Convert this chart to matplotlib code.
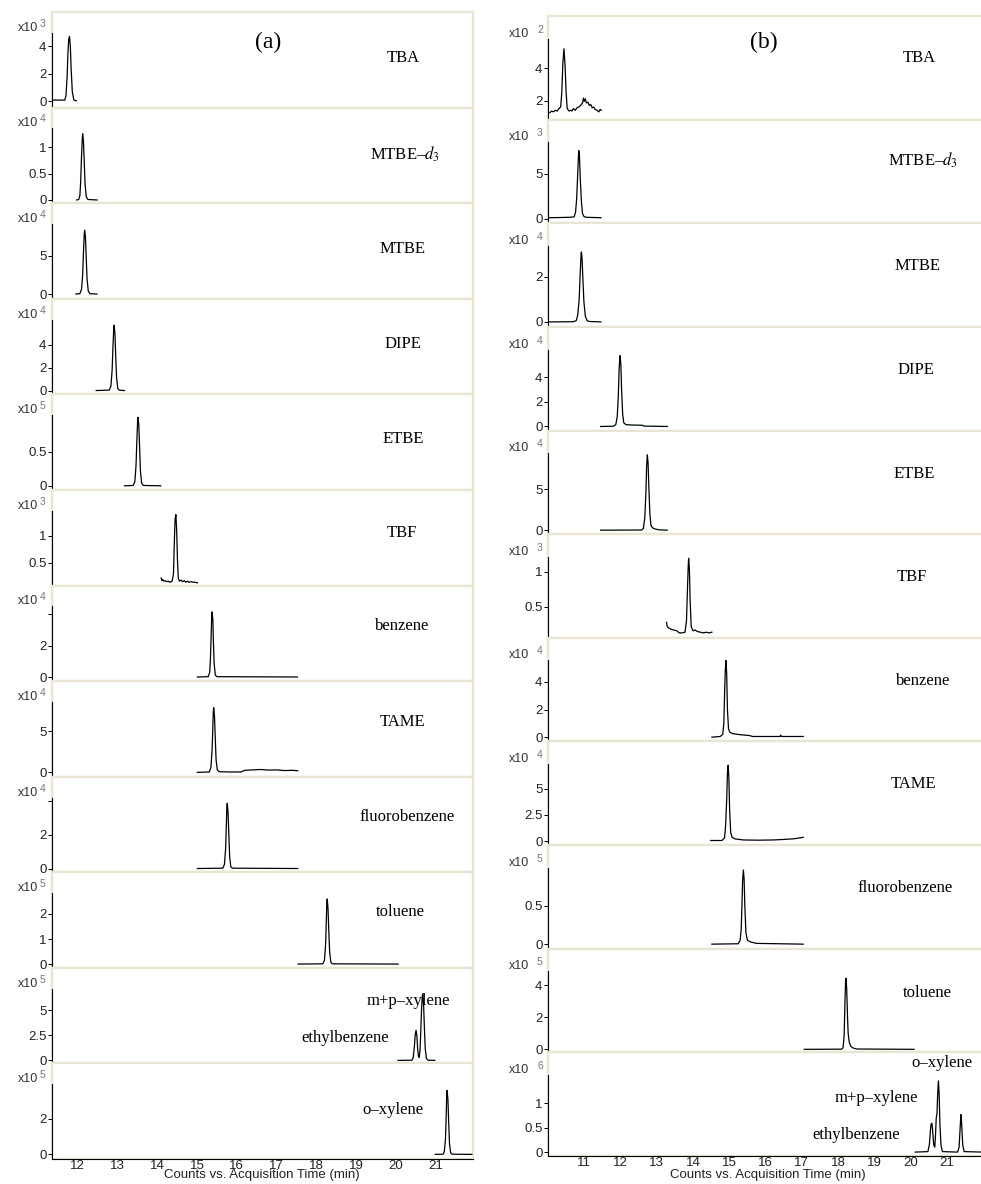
import matplotlib.pyplot as plt
from matplotlib.patches import Rectangle

plt.rcParams['font.family'] = ['Liberation Sans', 'DejaVu Sans']
plt.rcParams['mathtext.fontset'] = 'stix'

W, H = 981, 1184
FRAME = '#e9e5d3'

# ---------------- column (a) traces: time (min), counts in panel units ----------------
a_tba_t = [11.36, 11.68, 11.71, 11.74, 11.76, 11.78, 11.80, 11.82, 11.84, 11.87, 11.91, 11.97]
a_tba_y = [0.1, 0.1, 0.4, 1.8, 3.5, 4.5, 4.7, 4.0, 2.4, 0.7, 0.1, 0.05]

a_mtbed3_t = [11.98, 12.03, 12.06, 12.08, 12.10, 12.12, 12.13, 12.15, 12.17, 12.19, 12.22, 12.26, 12.49]
a_mtbed3_y = [0.0, 0.01, 0.08, 0.35, 0.8, 1.15, 1.25, 1.1, 0.7, 0.3, 0.06, 0.01, 0.0]

a_mtbe_t = [11.96, 12.06, 12.10, 12.13, 12.15, 12.17, 12.18, 12.20, 12.22, 12.24, 12.27, 12.31, 12.49]
a_mtbe_y = [0.0, 0.05, 0.6, 2.5, 5.5, 7.8, 8.3, 7.4, 4.6, 2.0, 0.4, 0.05, 0.0]

a_dipe_t = [12.47, 12.80, 12.84, 12.87, 12.89, 12.91, 12.92, 12.94, 12.96, 12.98, 13.01, 13.05, 13.18]
a_dipe_y = [0.0, 0.04, 0.4, 1.8, 3.8, 5.4, 5.7, 5.0, 3.0, 1.2, 0.2, 0.03, 0.0]

a_etbe_t = [13.18, 13.40, 13.44, 13.47, 13.49, 13.51, 13.52, 13.54, 13.56, 13.58, 13.61, 13.65, 14.09]
a_etbe_y = [0.0, 0.005, 0.06, 0.3, 0.65, 0.95, 1.0, 0.88, 0.55, 0.22, 0.04, 0.005, 0.0]

a_tbf_t = [14.10, 14.12, 14.14, 14.17, 14.20, 14.24, 14.28, 14.32, 14.36, 14.38, 14.41, 14.43, 14.45, 14.47,
           14.49, 14.51, 14.53, 14.56, 14.60, 14.64, 14.68, 14.72, 14.76, 14.80, 14.85, 14.90, 14.95, 15.01]
a_tbf_y = [0.22, 0.17, 0.19, 0.16, 0.17, 0.15, 0.16, 0.14, 0.15, 0.17, 0.30, 0.85, 1.3, 1.39,
           1.1, 0.55, 0.22, 0.16, 0.18, 0.15, 0.17, 0.14, 0.16, 0.14, 0.15, 0.14, 0.14, 0.13]

a_benz_t = [15.01, 15.28, 15.32, 15.34, 15.36, 15.37, 15.38, 15.40, 15.41, 15.43, 15.46, 15.50, 17.52]
a_benz_y = [0.0, 0.02, 0.3, 1.3, 3.0, 3.9, 4.15, 3.6, 2.4, 0.9, 0.12, 0.02, 0.0]

a_tame_t = [15.01, 15.31, 15.35, 15.38, 15.40, 15.41, 15.42, 15.44, 15.46, 15.48, 15.51, 15.56, 15.8,
            16.1, 16.2, 16.4, 16.6, 16.8, 17.0, 17.2, 17.4, 17.53]
a_tame_y = [0.0, 0.05, 0.6, 2.8, 5.8, 7.4, 7.85, 6.8, 4.0, 1.5, 0.3, 0.08, 0.05,
            0.05, 0.25, 0.3, 0.35, 0.28, 0.3, 0.22, 0.25, 0.2]

a_fluo_t = [15.01, 15.65, 15.69, 15.72, 15.74, 15.75, 15.76, 15.78, 15.80, 15.82, 15.85, 15.89, 17.53]
a_fluo_y = [0.0, 0.02, 0.25, 1.2, 2.8, 3.6, 3.84, 3.3, 2.0, 0.7, 0.1, 0.02, 0.0]

a_tol_t = [17.54, 18.16, 18.20, 18.23, 18.25, 18.26, 18.27, 18.29, 18.31, 18.33, 18.36, 18.40, 20.05]
a_tol_y = [0.0, 0.01, 0.15, 0.8, 1.9, 2.45, 2.6, 2.2, 1.3, 0.5, 0.08, 0.01, 0.0]

a_xyl_t = [20.05, 20.40, 20.43, 20.46, 20.48, 20.50, 20.52, 20.54, 20.56, 20.58, 20.60, 20.62, 20.64,
           20.66, 20.67, 20.69, 20.71, 20.73, 20.76, 20.80, 20.97]
a_xyl_y = [0.0, 0.02, 0.3, 1.5, 2.6, 3.0, 2.5, 1.2, 0.4, 0.3, 1.0, 3.0, 5.3,
           6.5, 6.6, 5.5, 3.2, 1.2, 0.2, 0.02, 0.0]

a_oxyl_t = [20.98, 21.18, 21.21, 21.24, 21.26, 21.27, 21.28, 21.30, 21.32, 21.34, 21.37, 21.41, 21.90]
a_oxyl_y = [0.0, 0.01, 0.15, 0.9, 2.4, 3.4, 3.6, 3.1, 1.8, 0.6, 0.08, 0.01, 0.0]

# panel scaling (x10^n), y-range and ticks for column (a)
a_exp = [3, 4, 4, 4, 5, 3, 4, 4, 4, 5, 5, 5]
a_ylo = [-0.44, -0.06, -0.61, -0.33, -0.06, 0.08, -0.26, -0.52, -0.22, -0.15, -0.30, -0.26]
a_ytop = [4.95, 1.35, 9.1, 6.18, 1.03, 1.46, 4.5, 8.54, 4.18, 2.83, 7.14, 3.94]
a_ticks = [[0, 2, 4], [0, 0.5, 1], [0, 5], [0, 2, 4], [0, 0.5], [0.5, 1], [0, 2, 4], [0, 5],
           [0, 2, 4], [0, 1, 2], [0, 2.5, 5], [0, 2]]
a_ticklabels = [['0', '2', '4'], ['0', '0.5', '1'], ['0', '5'], ['0', '2', '4'], ['0', '0.5'],
                ['0.5', '1'], ['0', '2', ''], ['0', '5'], ['0', '2', ''], ['0', '1', '2'],
                ['0', '2.5', '5'], ['0', '2']]
a_names = [['TBA'], ['MTBE–$d_3$'], ['MTBE'], ['DIPE'], ['ETBE'], ['TBF'], ['benzene'], ['TAME'],
           ['fluorobenzene'], ['toluene'], ['m+p–xylene', 'ethylbenzene'], ['o–xylene']]
a_xticks = list(range(12, 22))

# ---------------- column (b) traces ----------------
b_tba_t = [10.05, 10.10, 10.15, 10.20, 10.25, 10.30, 10.35, 10.38, 10.41, 10.44, 10.47, 10.50, 10.53,
           10.58, 10.62, 10.66, 10.70, 10.75, 10.80, 10.85, 10.90, 10.95, 10.98, 11.00, 11.03, 11.06,
           11.10, 11.14, 11.18, 11.22, 11.26, 11.30, 11.35, 11.40, 11.44, 11.47]
b_tba_y = [1.25, 1.35, 1.3, 1.4, 1.35, 1.5, 1.6, 2.5, 4.3, 5.2, 4.2, 2.5, 1.5,
           1.35, 1.4, 1.35, 1.5, 1.4, 1.55, 1.6, 1.7, 1.85, 2.15, 1.95, 2.1, 1.85,
           1.9, 1.7, 1.75, 1.55, 1.6, 1.45, 1.4, 1.3, 1.45, 1.4]

b_mtbed3_t = [10.03, 10.3, 10.6, 10.72, 10.76, 10.79, 10.82, 10.84, 10.85, 10.87, 10.89, 10.92, 10.95,
              10.99, 11.05, 11.46]
b_mtbed3_y = [0.1, 0.12, 0.15, 0.2, 0.7, 2.2, 5.0, 7.0, 7.6, 6.8, 4.5, 2.0, 0.6, 0.25, 0.15, 0.1]

b_mtbe_t = [10.03, 10.70, 10.78, 10.82, 10.86, 10.89, 10.91, 10.92, 10.94, 10.96, 10.99, 11.03, 11.08,
            11.15, 11.46]
b_mtbe_y = [0.0, 0.01, 0.06, 0.3, 1.0, 2.2, 2.9, 3.09, 2.8, 2.0, 0.9, 0.25, 0.05, 0.02, 0.0]

b_dipe_t = [11.45, 11.80, 11.87, 11.91, 11.94, 11.96, 11.98, 11.99, 12.01, 12.03, 12.06, 12.09, 12.15,
            12.3, 12.6, 12.65, 13.29]
b_dipe_y = [0.0, 0.02, 0.15, 0.8, 2.5, 4.5, 5.5, 5.75, 5.0, 3.0, 1.0, 0.3, 0.15, 0.12, 0.1, 0.03, 0.0]

b_etbe_t = [11.45, 12.58, 12.63, 12.67, 12.70, 12.72, 12.74, 12.76, 12.78, 12.81, 12.84, 12.88, 12.95,
            13.05, 13.29]
b_etbe_y = [0.0, 0.02, 0.2, 1.5, 4.5, 7.8, 9.23, 8.3, 5.5, 2.0, 0.6, 0.3, 0.15, 0.05, 0.0]

b_tbf_t = [13.27, 13.29, 13.33, 13.40, 13.48, 13.55, 13.62, 13.70, 13.78, 13.82, 13.85, 13.87, 13.88,
           13.90, 13.92, 13.95, 14.00, 14.06, 14.12, 14.20, 14.28, 14.36, 14.44, 14.52]
b_tbf_y = [0.28, 0.22, 0.20, 0.18, 0.17, 0.16, 0.13, 0.13, 0.14, 0.3, 0.8, 1.1, 1.19,
           1.05, 0.6, 0.22, 0.16, 0.17, 0.15, 0.14, 0.13, 0.14, 0.13, 0.14]

b_benz_t = [14.52, 14.75, 14.82, 14.85, 14.87, 14.89, 14.91, 14.93, 14.95, 14.98, 15.02, 15.1, 15.3,
            15.55, 15.65, 16.4, 16.42, 16.44, 17.04]
b_benz_y = [0.0, 0.05, 0.2, 1.0, 3.0, 4.8, 5.55, 4.5, 2.0, 0.6, 0.35, 0.25, 0.18,
            0.12, 0.05, 0.05, 0.15, 0.05, 0.05]

b_tame_t = [14.49, 14.80, 14.87, 14.90, 14.93, 14.95, 14.97, 14.99, 15.01, 15.04, 15.08, 15.16, 15.4,
            15.8, 16.2, 16.5, 16.8, 17.04]
b_tame_y = [0.05, 0.05, 0.3, 1.5, 4.0, 6.5, 7.26, 6.0, 3.0, 0.8, 0.35, 0.2, 0.1,
            0.08, 0.1, 0.15, 0.22, 0.35]

b_fluo_t = [14.52, 15.25, 15.30, 15.33, 15.35, 15.37, 15.39, 15.41, 15.43, 15.46, 15.50, 15.58, 15.75, 17.04]
b_fluo_y = [0.0, 0.005, 0.05, 0.2, 0.5, 0.85, 0.97, 0.85, 0.5, 0.15, 0.05, 0.03, 0.01, 0.0]

b_tol_t = [17.07, 18.10, 18.14, 18.17, 18.19, 18.21, 18.22, 18.24, 18.26, 18.28, 18.31, 18.35, 18.42,
           18.52, 20.1]
b_tol_y = [0.0, 0.01, 0.1, 0.9, 2.8, 4.3, 4.45, 3.8, 2.2, 1.0, 0.45, 0.2, 0.08, 0.02, 0.0]

b_xyl_t = [20.13, 20.48, 20.52, 20.55, 20.57, 20.59, 20.61, 20.64, 20.67, 20.69, 20.71, 20.73, 20.75,
           20.77, 20.79, 20.81, 20.84, 20.88, 21.30, 21.34, 21.37, 21.39, 21.41, 21.44, 21.48, 21.99]
b_xyl_y = [0.0, 0.01, 0.15, 0.45, 0.58, 0.59, 0.45, 0.15, 0.1, 0.35, 0.7, 0.78, 1.2,
           1.46, 1.2, 0.6, 0.15, 0.01, 0.0, 0.1, 0.5, 0.77, 0.6, 0.15, 0.01, 0.0]

b_exp = [2, 3, 4, 4, 4, 3, 4, 4, 5, 5, 6]
b_ylo = [0.82, -0.52, -0.22, -0.33, -0.49, 0.06, -0.31, -0.39, -0.06, -0.19, -0.08]
b_ytop = [5.82, 8.53, 3.36, 6.24, 9.43, 1.21, 5.55, 7.36, 1.0, 4.88, 1.58]
b_ticks = [[2, 4], [0, 5], [0, 2], [0, 2, 4], [0, 5], [0.5, 1], [0, 2, 4], [0, 2.5, 5], [0, 0.5],
           [0, 2, 4], [0, 0.5, 1]]
b_ticklabels = [['2', '4'], ['0', '5'], ['0', '2'], ['0', '2', '4'], ['0', '5'], ['0.5', '1'],
                ['0', '2', '4'], ['0', '2.5', '5'], ['0', '0.5'], ['0', '2', '4'], ['0', '0.5', '1']]
b_names = [['TBA'], ['MTBE–$d_3$'], ['MTBE'], ['DIPE'], ['ETBE'], ['TBF'], ['benzene'], ['TAME'],
           ['fluorobenzene'], ['toluene'], ['o–xylene', 'm+p–xylene', 'ethylbenzene']]
b_xticks = list(range(11, 22))

a_traces = [(a_tba_t, a_tba_y), (a_mtbed3_t, a_mtbed3_y), (a_mtbe_t, a_mtbe_y), (a_dipe_t, a_dipe_y),
            (a_etbe_t, a_etbe_y), (a_tbf_t, a_tbf_y), (a_benz_t, a_benz_y), (a_tame_t, a_tame_y),
            (a_fluo_t, a_fluo_y), (a_tol_t, a_tol_y), (a_xyl_t, a_xyl_y), (a_oxyl_t, a_oxyl_y)]
b_traces = [(b_tba_t, b_tba_y), (b_mtbed3_t, b_mtbed3_y), (b_mtbe_t, b_mtbe_y), (b_dipe_t, b_dipe_y),
            (b_etbe_t, b_etbe_y), (b_tbf_t, b_tbf_y), (b_benz_t, b_benz_y), (b_tame_t, b_tame_y),
            (b_fluo_t, b_fluo_y), (b_tol_t, b_tol_y), (b_xyl_t, b_xyl_y)]

# compound label positions in pixels (centre x, centre y)
a_name_pos = [[(403, 58)], [(405, 154)], [(403, 249)], [(403, 344)], [(403, 439)], [(402, 533)],
              [(402, 626)], [(403, 722)], [(407, 817)], [(400, 912)], [(408, 1001), (345, 1038)],
              [(393, 1110)]]
b_name_pos = [[(919, 58)], [(923, 160)], [(918, 266)], [(916, 370)], [(914, 474)], [(912, 577)],
              [(923, 681)], [(914, 784)], [(905, 888)], [(927, 993)],
              [(942, 1063), (876, 1098), (856, 1135)]]

fig = plt.figure(figsize=(W / 100, H / 100), dpi=100)


def draw_column(traces, exps, ylo, ytop, ticks, ticklabels, names, name_pos, xticks,
                x0, x1, top, step, xlim, exp_dx):
    n = len(traces)
    for i in range(n):
        y0 = top + i * step
        y1 = y0 + step
        ax = fig.add_axes([x0 / W, 1 - y1 / H, (x1 - x0) / W, (y1 - y0) / H])
        t, y = traces[i]
        ax.plot(t, y, color='black', lw=0.9)
        ax.set_xlim(*xlim)
        ax.set_ylim(ylo[i], ytop[i] + 0.28 * (ytop[i] - ylo[i]))
        ax.add_patch(Rectangle((0, 0), 1, 1, transform=ax.transAxes, fill=False,
                               ec=FRAME, lw=1.7, clip_on=False, zorder=0))
        for s in ['top', 'right']:
            ax.spines[s].set_visible(False)
        ax.spines['left'].set_bounds(ylo[i], ytop[i])
        ax.spines['left'].set_linewidth(0.8)
        ax.set_yticks(ticks[i], ticklabels[i])
        ax.tick_params(axis='y', length=3, width=0.7, pad=1, labelsize=9.5, labelcolor='#222')
        if i == n - 1:
            ax.spines['bottom'].set_linewidth(0.8)
            ax.set_xticks(xticks, [str(v) for v in xticks])
            ax.tick_params(axis='x', length=0, pad=1, labelsize=9.5, labelcolor='#222')
        else:
            ax.spines['bottom'].set_visible(False)
            ax.set_xticks([])
        # x10^n scale marker above the y axis
        tr = ax.get_yaxis_transform()
        ax.annotate('x10', xy=(0, ytop[i]), xycoords=tr, xytext=(exp_dx[0], 5),
                    textcoords='offset pixels', ha='right', va='center', fontsize=9,
                    color='#333', annotation_clip=False)
        ax.annotate(str(exps[i]), xy=(0, ytop[i]), xycoords=tr, xytext=(exp_dx[1], 9),
                    textcoords='offset pixels', ha='left', va='center', fontsize=7.5,
                    color='#777', annotation_clip=False)
        for name, (px, py) in zip(names[i], name_pos[i]):
            fig.text(px / W, 1 - py / H, name, ha='center', va='center', fontsize=12,
                     family='Liberation Serif')


draw_column(a_traces, a_exp, a_ylo, a_ytop, a_ticks, a_ticklabels, a_names, a_name_pos, a_xticks,
            52, 473, 12, (1159 - 12) / 12, (11.36, 21.93), (-14, -12))
draw_column(b_traces, b_exp, b_ylo, b_ytop, b_ticks, b_ticklabels, b_names, b_name_pos, b_xticks,
            548, 983, 16, (1156 - 16) / 11, (10.0, 22.0), (-19, -11))

fig.text(268 / W, 1 - 42 / H, '(a)', ha='center', va='center', fontsize=17, family='Liberation Serif')
fig.text(764 / W, 1 - 42 / H, '(b)', ha='center', va='center', fontsize=17, family='Liberation Serif')
fig.text(262 / W, 1 - 1175 / H, 'Counts vs. Acquisition Time (min)', ha='center', va='center',
         fontsize=9.5, color='#222')
fig.text(768 / W, 1 - 1175 / H, 'Counts vs. Acquisition Time (min)', ha='center', va='center',
         fontsize=9.5, color='#222')

fig.savefig('out.png', dpi=100, facecolor='white')
